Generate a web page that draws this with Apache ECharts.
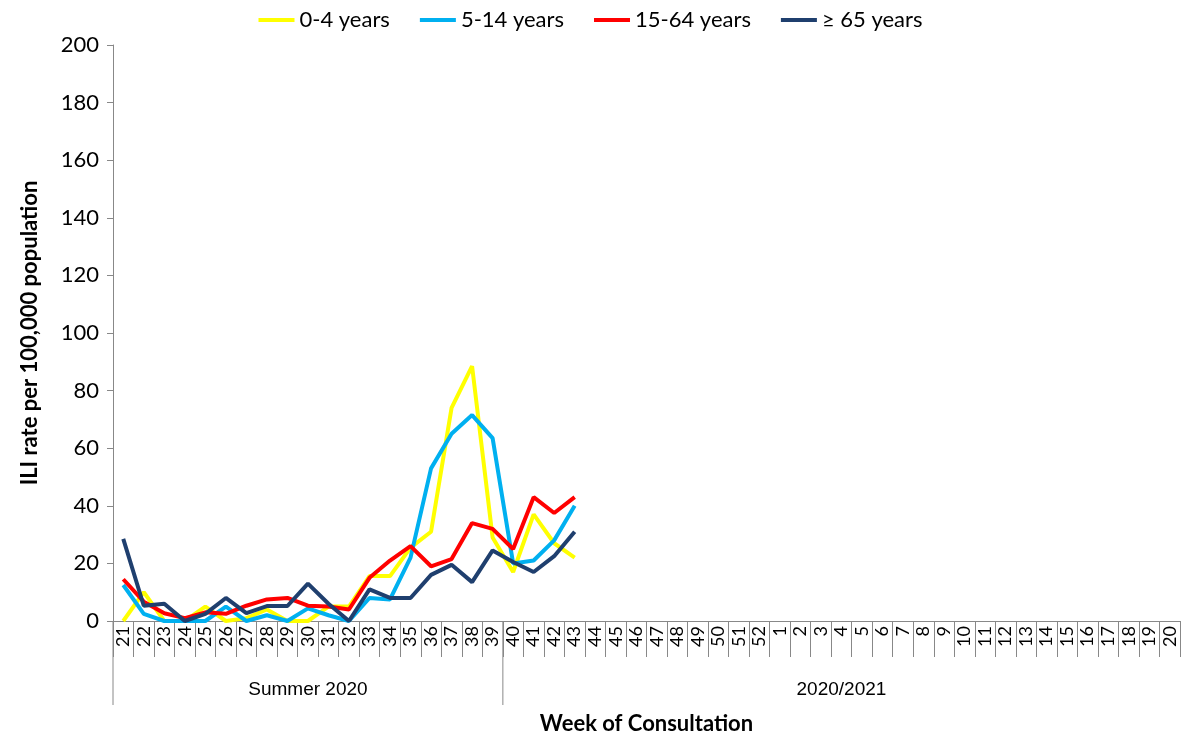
<!DOCTYPE html>
<html>
<head>
<meta charset="utf-8">
<script src="https://cdn.jsdelivr.net/npm/echarts@6/dist/echarts.min.js"></script>
<style>html,body{margin:0;padding:0;background:#fff}#main{width:1181px;height:736px}</style>
</head>
<body>
<div id="main"></div>
<script>
var weeks = [];
for (var w = 21; w <= 52; w++) weeks.push(String(w));
for (var w2 = 1; w2 <= 20; w2++) weeks.push(String(w2));

var seriesNames = ['0-4 years', '5-14 years', '15-64 years', '≥ 65 years'];
var age0to4 = [0, 10, 0, 0, 5, 0, 1, 4, 0, 0, 5, 5, 15.6, 15.6, 25.5, 31, 74, 88.5, 29, 17, 37, 27, 22];
var age5to14 = [12.5, 2.5, 0, 0, 0, 5, 0, 2, 0, 4.4, 2, 0, 8, 7.5, 22, 53, 65, 71.5, 63.5, 20, 21, 28, 40];
var age15to64 = [14.5, 6.7, 2.7, 1, 3, 2.5, 5.3, 7.5, 8, 5.3, 5, 4, 15, 21, 26, 19, 21.5, 34, 32, 25, 43, 37.5, 43];
var age65plus = [28.5, 5.3, 6, 0, 2.5, 8, 2.7, 5.2, 5.2, 13, 6, 0, 11, 8, 8, 16, 19.5, 13.5, 24.5, 20.5, 17, 22.5, 31];
var colors = ['#ffff00', '#00b0f0', '#ff0000', '#1f3f6e'];
var groups = [['Summer 2020', 0, 18], ['2020/2021', 19, 51]];

var font = 'Lato, "Open Sans", sans-serif';
var chart = echarts.init(document.getElementById('main'));
var data = [age0to4, age5to14, age15to64, age65plus];
var option = {
    textStyle: {fontFamily: font},
    color: colors,
    legend: {
        top: 4, left: 'center', itemGap: 30, itemWidth: 36, itemHeight: 4,
        icon: 'rect',
        textStyle: {fontSize: 22, color: '#000', fontFamily: font},
        data: seriesNames
    },
    grid: {left: 113, right: 1, top: 45, bottom: 115, containLabel: false, outerBoundsMode: 'none'},
    xAxis: {
        type: 'category', data: weeks, boundaryGap: true,
        axisLine: {show: true, lineStyle: {color: '#888'}},
        axisTick: {show: true, length: 36, interval: 0, alignWithLabel: false, lineStyle: {color: '#888', width: 1}},
        axisLabel: {rotate: 90, fontSize: 18, color: '#000', interval: 0, margin: 5, fontFamily: font},
        name: 'Week of Consultation', nameLocation: 'middle', nameGap: 92,
        nameTextStyle: {fontSize: 22, fontWeight: 'bold', color: '#000', fontFamily: font}
    },
    yAxis: {
        type: 'value', min: 0, max: 200, interval: 20,
        splitLine: {show: false},
        axisLine: {show: true, lineStyle: {color: '#888'}},
        axisTick: {show: true, length: 6, lineStyle: {color: '#888'}},
        axisLabel: {fontSize: 22, color: '#000', margin: 14, fontFamily: font},
        name: 'ILI rate per 100,000 population', nameLocation: 'middle', nameGap: 72,
        nameTextStyle: {fontSize: 22, fontWeight: 'bold', color: '#000', fontFamily: font}
    },
    series: seriesNames.map(function (n, i) {
        return {name: n, type: 'line', data: data[i], symbol: 'none',
            lineStyle: {width: 4, color: colors[i]}, z: 2 + i};
    })
};
chart.setOption(option);

// group labels under the week axis
var half = chart.convertToPixel({xAxisIndex: 0}, weeks[1]) - chart.convertToPixel({xAxisIndex: 0}, weeks[0]);
var y0 = chart.convertToPixel({yAxisIndex: 0}, 0);
var els = [];
groups.forEach(function (g) {
    var x1 = chart.convertToPixel({xAxisIndex: 0}, weeks[g[1]]) - half / 2;
    var x2 = chart.convertToPixel({xAxisIndex: 0}, weeks[g[2]]) + half / 2;
    els.push({type: 'line', shape: {x1: x1, y1: y0, x2: x1, y2: y0 + 84}, style: {stroke: '#888', lineWidth: 1}});
    els.push({type: 'text', x: (x1 + x2) / 2, y: y0 + 69,
        style: {text: g[0], fontSize: 19, fill: '#000', align: 'center', verticalAlign: 'middle', font: '19px ' + font}});
});
chart.setOption({graphic: els});
</script>
</body>
</html>
